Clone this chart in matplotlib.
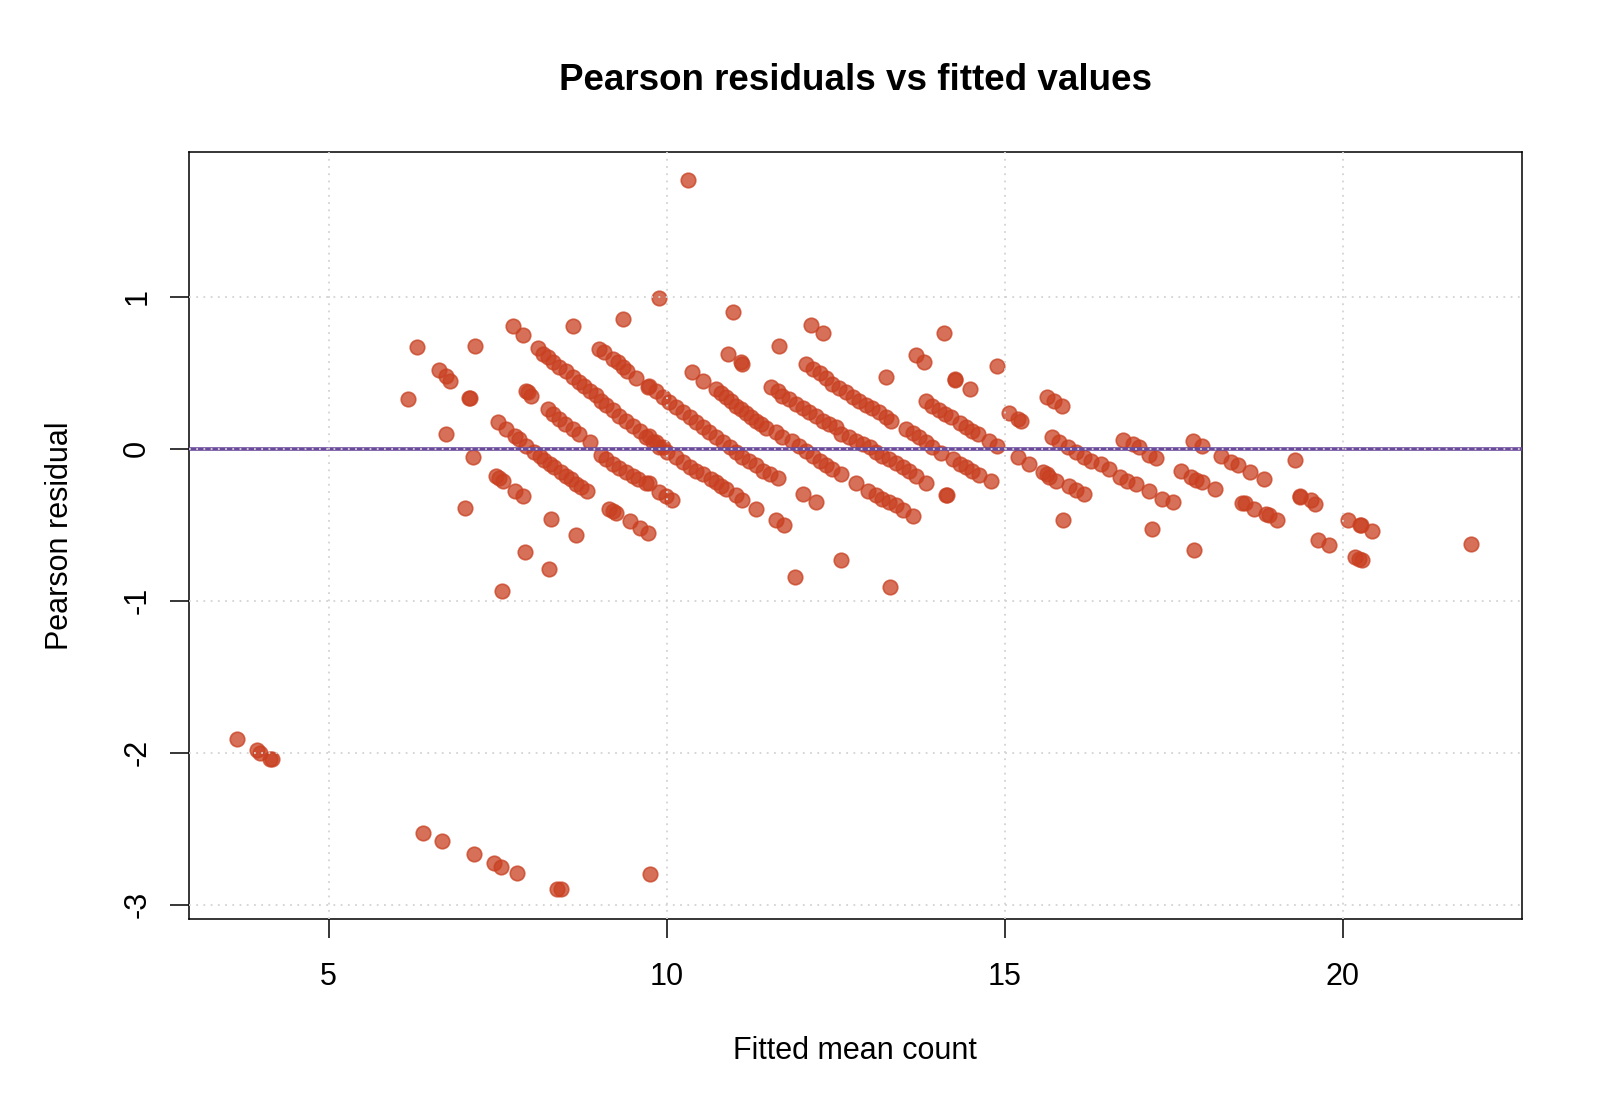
import numpy as np
import matplotlib
matplotlib.use('Agg')
import matplotlib.pyplot as plt

plt.rcParams['font.family'] = ['Liberation Sans', 'DejaVu Sans']

# fitted mean count (x) and pearson residual (y)
low_fit = [3.645, 3.94, 3.99, 4.14, 4.16,
           6.39, 6.67, 7.15, 7.45, 7.55, 7.79, 8.38, 8.44, 9.75]
low_res = [-1.91, -1.98, -2.0, -2.04, -2.04,
           -2.53, -2.58, -2.67, -2.73, -2.75, -2.79, -2.895, -2.90, -2.80]

left_fit = [10.31, 9.88, 7.73, 7.87, 8.61, 9.36, 6.31, 7.16, 6.64, 6.74, 6.80,
            6.17, 7.08, 7.09, 6.73, 7.14, 7.92, 7.95, 7.99,
            8.24, 8.32, 8.41, 8.49, 8.61, 8.70, 8.86,
            7.50, 7.63, 7.75, 7.82, 7.92,
            8.04, 8.12, 8.19, 8.27, 8.34, 8.44, 8.51, 8.59, 8.66, 8.73, 8.82,
            7.48, 7.52, 7.58, 7.75, 7.87, 7.02, 8.29, 8.66, 7.90, 8.26, 7.57]
left_res = [1.77, 0.99, 0.808, 0.749, 0.808, 0.854, 0.666, 0.677, 0.519, 0.48, 0.447,
            0.324, 0.333, 0.336, 0.094, -0.054, 0.381, 0.37, 0.348,
            0.261, 0.228, 0.195, 0.162, 0.129, 0.096, 0.042,
            0.173, 0.129, 0.086, 0.064, 0.02,
            -0.024, -0.046, -0.074, -0.1, -0.122, -0.155, -0.177, -0.199, -0.232, -0.254, -0.282,
            -0.181, -0.19, -0.21, -0.28, -0.313, -0.392, -0.462, -0.571, -0.68, -0.79, -0.936]

band10_fit = [8.09, 8.17, 8.24, 8.32, 8.41, 8.51, 8.61, 8.71, 8.78, 8.86, 8.95,
              9.03, 9.10, 9.20, 9.30, 9.40, 9.50, 9.60, 9.69, 9.79, 9.89,
              9.74, 9.84, 9.94, 10.01, 10.14, 10.24, 10.34, 10.43, 10.53,
              10.66, 10.73, 10.80, 10.88, 11.02, 11.11, 11.32, 11.61, 11.73]
band10_res = [0.659, 0.626, 0.6, 0.571, 0.534, 0.508, 0.469, 0.436, 0.414, 0.381, 0.353,
              0.315, 0.289, 0.254, 0.217, 0.184, 0.151, 0.114, 0.079, 0.046, 0.009,
              0.086, 0.042, 0.009, -0.024, -0.057, -0.09, -0.118, -0.144, -0.166,
              -0.199, -0.221, -0.243, -0.265, -0.308, -0.337, -0.4, -0.472, -0.505]

band9_fit = [9.03, 9.10, 9.20, 9.30, 9.40, 9.50, 9.58, 9.69, 9.89, 9.99, 10.08, 9.74,
             9.15, 9.20, 9.25, 9.45, 9.60, 9.72]
band9_res = [-0.039, -0.068, -0.1, -0.127, -0.155, -0.177, -0.2, -0.227, -0.286, -0.315, -0.341, -0.227,
             -0.396, -0.41, -0.424, -0.477, -0.523, -0.556]

band11_fit = [9.00, 9.08, 9.20, 9.28, 9.35, 9.42, 9.55, 9.72,
              9.74, 9.84, 9.94, 10.04, 10.14, 10.24, 10.34, 10.43, 10.53, 10.63,
              10.73, 10.83, 10.93, 11.02, 11.12, 11.22, 11.32, 11.42, 11.52, 11.64]
band11_res = [0.655, 0.633, 0.589, 0.567, 0.534, 0.508, 0.464, 0.403,
              0.414, 0.381, 0.337, 0.305, 0.272, 0.239, 0.206, 0.173, 0.14, 0.108,
              0.075, 0.042, 0.009, -0.024, -0.052, -0.079, -0.111, -0.144, -0.166, -0.192]

mid_fit = [10.98, 12.14, 12.31, 11.66, 10.91, 11.10, 11.12, 10.38, 10.53, 13.25, 13.68, 13.81,
           10.73, 10.80, 10.88, 10.95, 11.02, 11.10, 11.17, 11.25, 11.32, 11.39, 11.47, 11.62, 11.71,
           12.01, 12.21,
           11.54, 11.64, 11.71, 11.81, 11.91, 12.01, 12.11, 12.21, 12.31, 12.40, 12.50,
           12.58, 12.70, 12.80,
           11.86, 11.96, 12.06, 12.16, 12.26, 12.35, 12.45, 12.58,
           12.06, 12.16, 12.26, 12.35, 12.45, 12.55, 12.65, 12.75, 12.85, 12.95, 13.04, 13.14, 13.24, 13.32,
           12.90, 13.00, 13.09, 13.19, 13.29, 13.39, 13.49, 13.59, 13.68, 13.83,
           12.80, 12.97, 13.09, 13.19, 13.29, 13.39, 13.49, 13.64,
           12.57, 11.90, 13.30,
           13.54, 13.64, 13.73, 13.83]
mid_res = [0.902, 0.812, 0.762, 0.677, 0.626, 0.567, 0.556, 0.501, 0.447, 0.473, 0.617, 0.567,
           0.392, 0.363, 0.337, 0.311, 0.283, 0.261, 0.234, 0.21, 0.184, 0.162, 0.136, 0.107, 0.075,
           -0.297, -0.348,
           0.407, 0.377, 0.348, 0.326, 0.294, 0.267, 0.239, 0.217, 0.184, 0.162, 0.14,
           0.097, 0.075, 0.053,
           0.053, 0.02, -0.013, -0.046, -0.079, -0.105, -0.133, -0.166,
           0.556, 0.523, 0.495, 0.464, 0.425, 0.399, 0.37, 0.342, 0.315, 0.289, 0.267, 0.239, 0.21, 0.184,
           0.031, 0.009, -0.024, -0.046, -0.068, -0.094, -0.118, -0.144, -0.177, -0.227,
           -0.227, -0.276, -0.308, -0.33, -0.352, -0.374, -0.402, -0.446,
           -0.731, -0.845, -0.91,
           0.129, 0.1, 0.075, 0.042]

right_fit = [14.10, 14.89, 14.26, 14.27, 14.49,
             13.83, 13.93, 14.03, 14.12, 14.20, 14.33, 14.42, 14.52, 14.60, 14.77, 14.89,
             13.93, 14.05,
             14.23, 14.33, 14.42, 14.52, 14.62, 14.79, 14.13, 14.14,
             15.06, 15.19, 15.24, 15.63, 15.73, 15.85, 15.19, 15.36,
             15.56, 15.62, 15.66, 15.75, 15.95, 16.05, 16.17,
             15.70, 15.80, 15.93, 16.05, 16.17, 16.27, 16.42, 16.54,
             16.71, 16.81, 16.94, 17.13,
             16.74, 16.89, 16.99, 17.13, 17.23,
             17.33, 17.48, 15.86, 17.18,
             17.60, 17.75, 17.82, 17.80,
             17.78, 17.91, 17.91, 18.11,
             18.19, 18.35, 18.45, 18.63, 18.83, 19.29,
             18.51, 18.55, 18.68, 18.86, 18.90, 19.03,
             19.36, 19.37, 19.52, 19.59,
             20.08, 20.25, 20.26, 20.43,
             19.63, 19.79, 20.18, 20.24, 20.28, 21.89]
right_res = [0.764, 0.541, 0.453, 0.456, 0.392,
             0.311, 0.283, 0.254, 0.23, 0.206, 0.167, 0.145, 0.118, 0.097, 0.053, 0.02,
             0.009, -0.03,
             -0.068, -0.1, -0.122, -0.149, -0.171, -0.21, -0.308, -0.305,
             0.232, 0.195, 0.184, 0.337, 0.315, 0.278, -0.057, -0.1,
             -0.155, -0.17, -0.184, -0.21, -0.243, -0.271, -0.297,
             0.075, 0.042, 0.009, -0.024, -0.057, -0.079, -0.1, -0.133,
             -0.184, -0.21, -0.232, -0.276,
             0.057, 0.031, 0.009, -0.039, -0.061,
             -0.33, -0.352, -0.472, -0.529,
             -0.144, -0.188, -0.205, -0.669,
             0.053, 0.016, -0.221, -0.265,
             -0.05, -0.09, -0.111, -0.155, -0.199, -0.072,
             -0.359, -0.36, -0.396, -0.433, -0.44, -0.472,
             -0.315, -0.318, -0.341, -0.363,
             -0.472, -0.505, -0.505, -0.542,
             -0.6, -0.632, -0.713, -0.724, -0.735, -0.626]

fitted = np.array(low_fit + left_fit + band10_fit + band9_fit + band11_fit + mid_fit + right_fit)
resid = np.array(low_res + left_res + band10_res + band9_res + band11_res + mid_res + right_res)

pt_col = (0.79, 0.25, 0.13, 0.75)

fig = plt.figure(figsize=(16, 11.08), dpi=100)
ax = fig.add_axes([189 / 1600, (1108 - 918.5) / 1108, (1521.5 - 189) / 1600, (918.5 - 152) / 1108])

ax.scatter(fitted, resid, s=110, facecolor=pt_col, edgecolor=pt_col, linewidths=1.2, zorder=2)
ax.axhline(0, color='#6a4a9c', lw=2.6, zorder=3)

# dotted light grey grid on top, like grid() in R
for gx in [5, 10, 15, 20]:
    ax.axvline(gx, color='#d3d3d3', lw=1.3, ls=(0, (1, 3)), zorder=4)
for gy in [-3, -2, -1, 0, 1]:
    ax.axhline(gy, color='#d3d3d3', lw=1.3, ls=(0, (1, 3)), zorder=4)

ax.set_xlim(2.936, 22.64)
ax.set_ylim(-3.092, 1.952)
ax.set_xticks([5, 10, 15, 20])
ax.set_yticks([-3, -2, -1, 0, 1])
ax.set_yticklabels(['-3', '-2', '-1', '0', '1'], rotation=90, va='center')
ax.tick_params(direction='out', length=13.5, width=1.1, labelsize=22, color='black')
ax.tick_params(axis='x', pad=18)
ax.tick_params(axis='y', pad=13)
for sp in ax.spines.values():
    sp.set_linewidth(1.1)

fig.text(855 / 1600, 1 - 90.5 / 1108, 'Pearson residuals vs fitted values',
         ha='center', va='baseline', fontsize=26.5, fontweight='bold')
fig.text(855 / 1600, 1 - 1051 / 1108, 'Fitted mean count', ha='center', va='center', fontsize=22)
fig.text(60 / 1600, 1 - 536 / 1108, 'Pearson residual', ha='center', va='center',
         rotation=90, fontsize=22)

fig.savefig('out.png', dpi=100)
